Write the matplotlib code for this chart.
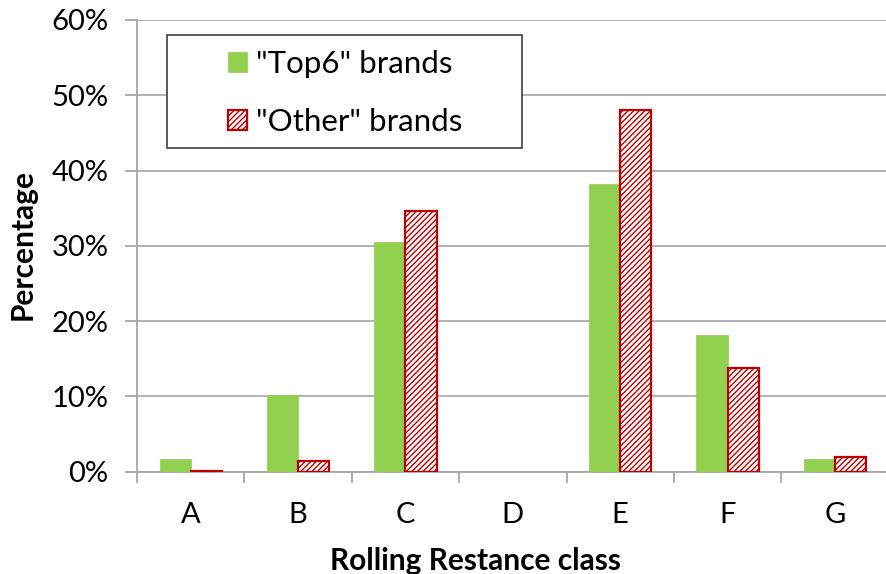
import matplotlib
matplotlib.use("Agg")
import matplotlib.pyplot as plt
import numpy as np
from matplotlib.ticker import FuncFormatter
from matplotlib.patches import Rectangle

categories = ["A", "B", "C", "D", "E", "F", "G"]
top6 = [1.6, 10.1, 30.5, np.nan, 38.2, 18.2, 1.6]
other = [0.1, 1.4, 34.6, np.nan, 48.0, 13.8, 1.9]
series_labels = ['"Top6" brands', '"Other" brands']
y_ticks = [0, 10, 20, 30, 40, 50, 60]

plt.rcParams['font.family'] = ['Lato', 'DejaVu Sans']
plt.rcParams['hatch.color'] = '#C00000'
plt.rcParams['hatch.linewidth'] = 1.0

W, H = 886, 574
fig = plt.figure(figsize=(W / 100, H / 100), dpi=100)
ax = fig.add_axes([137 / W, 1 - 471.5 / H, (W - 137) / W + 0.003, (471.5 - 20) / H])

x = np.arange(len(categories))
w = 0.29
green = '#92D050'
red = '#C00000'
ax.bar(x - w / 2, top6, width=w, color=green, edgecolor=green, linewidth=0.5,
       label=series_labels[0], zorder=3)
ax.bar(x + w / 2, other, width=w, facecolor='white', edgecolor=red, hatch='//////',
       linewidth=1.6, label=series_labels[1], zorder=3)

ax.set_xlim(-0.5, len(categories) - 0.5)
ax.set_ylim(0, 60)
ax.set_yticks(y_ticks)
ax.yaxis.set_major_formatter(FuncFormatter(lambda v, p: f"{int(v)}%"))
ax.set_xticks(x)
ax.set_xticklabels(categories)
ax.set_xticks(np.arange(-0.5, len(categories), 1.0), minor=True)
ax.tick_params(axis='x', which='major', length=0, pad=22, labelsize=21, colors='#000000')
ax.tick_params(axis='x', which='minor', length=8, width=1.3, color='#A6A6A6')
ax.tick_params(axis='y', length=8.6, width=1.3, color='#A6A6A6', labelsize=21, pad=12)

ax.grid(axis='y', color='#ACACAC', linewidth=1.3, zorder=0)
ax.set_axisbelow(True)
for s in ['top', 'right']:
    ax.spines[s].set_visible(False)
for s in ['left', 'bottom']:
    ax.spines[s].set_color('#A6A6A6')
    ax.spines[s].set_linewidth(1.3)

fig.text(476 / W, 1 - 570 / H, 'Rolling Restance class', fontsize=21.5, fontweight='bold',
         ha='center', va='baseline')
fig.text(23 / W, 1 - 245 / H, 'Percentage', fontsize=21.5, fontweight='bold',
         ha='center', va='center', rotation=90)

# legend frame
frame = Rectangle((167 / W, 1 - 148 / H), (522 - 167) / W, (148 - 35) / H,
                  transform=fig.transFigure, facecolor='white',
                  edgecolor='#404040', linewidth=1.2, zorder=5, clip_on=False)
ax.add_patch(frame)
leg = ax.legend(loc='upper left', bbox_to_anchor=(228 / W, 1 - 50 / H),
                bbox_transform=fig.transFigure,
                fontsize=22.5, frameon=False, handlelength=0.61,
                handleheight=0.61, borderpad=0, labelspacing=0.96,
                borderaxespad=0, handletextpad=0.3)
leg.set_zorder(6)

fig.savefig('out.png', dpi=100)
